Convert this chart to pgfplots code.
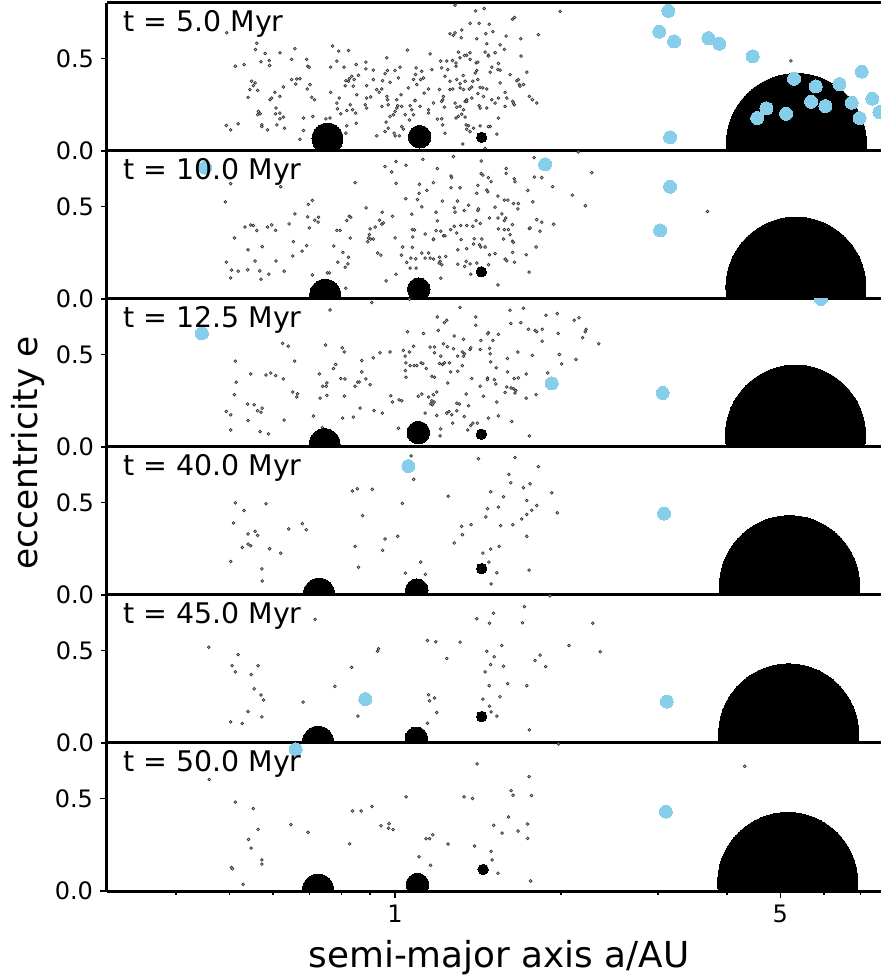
\documentclass[border=0pt]{standalone}
\usepackage{fontspec}
\setmainfont{DejaVu Sans}
\usepackage{pgfplots}
\pgfplotsset{compat=1.18}
\definecolor{skyb}{RGB}{135,206,235}
\pgfplotsset{
  gdots/.style={only marks, mark=*, mark size=0.7pt, mark options={fill=gray!35, draw=black!80, line width=0.35pt}},
  bdots/.style={only marks, mark=*, mark size=3.25pt, mark options={fill=skyb, draw=skyb, line width=0pt}},
  venus/.style={only marks, mark=*, mark size=7.75pt, mark options={fill=black, draw=black, line width=0pt}},
  earth/.style={only marks, mark=*, mark size=5.65pt, mark options={fill=black, draw=black, line width=0pt}},
  mars/.style={only marks, mark=*, mark size=2.6pt, mark options={fill=black, draw=black, line width=0pt}},
  jup/.style={only marks, mark=*, mark size=35pt, mark options={fill=black, draw=black, line width=0pt}},
}
\tikzset{ttl/.style={anchor=base west, inner sep=0pt, font=\fontsize{14.2}{14.2}\selectfont, xshift=8pt, yshift=-14.5pt}}
\begin{document}
\begin{tikzpicture}
% ---------------- panel 1
\begin{semilogxaxis}[at={(0pt,370pt)},
    scale only axis, width=387pt, height=74pt,
    xmin=0.3, xmax=7.62, ymin=0, ymax=0.8,
    axis x line*=box, axis y line*=left,
    ytick={0,0.5}, yticklabels={\mbox{0.0},\mbox{0.5}},
    xtick=\empty, xminorticks=false,
    tick align=outside, major tick length=3pt, minor tick length=2pt,
    tick style={line width=0.7pt, black},
    axis line style={line width=1.5pt},
    yticklabel style={font=\fontsize{12}{12}\selectfont},
    clip marker paths=true]
\addplot[gdots] coordinates {
(1.285,0.788)(1.400,0.757)(1.451,0.770)(1.647,0.721)(1.633,0.712)(0.495,0.639)(1.258,0.634)(1.276,0.625)(1.318,0.612)(1.285,0.639)(1.321,0.654)(1.368,0.690)(1.421,0.690)(1.482,0.685)(1.461,0.634)(1.505,0.645)(1.407,0.607)(1.591,0.621)(1.691,0.607)(1.820,0.629)
(0.561,0.582)(0.558,0.549)(0.658,0.553)(0.770,0.567)(0.790,0.540)(0.823,0.543)(1.053,0.545)(1.158,0.525)(1.303,0.534)(1.349,0.518)(1.368,0.531)(1.457,0.534)(1.477,0.518)(1.519,0.531)(1.551,0.574)(1.579,0.549)(1.467,0.580)
(0.581,0.527)(0.618,0.531)(0.691,0.495)(0.649,0.495)(0.571,0.482)(0.591,0.489)(0.592,0.462)(0.513,0.458)(0.532,0.467)(0.694,0.458)(0.698,0.453)
(0.764,0.453)(0.784,0.486)(0.808,0.453)(0.850,0.467)(0.885,0.480)(0.885,0.444)(0.966,0.504)(1.000,0.435)(1.021,0.453)(1.210,0.486)(1.241,0.486)(1.271,0.489)(1.290,0.476)(1.312,0.504)(1.337,0.516)(1.368,0.495)(1.403,0.476)(1.413,0.480)(1.477,0.513)(1.498,0.453)(1.537,0.440)(1.551,0.437)(1.540,0.473)(1.693,0.513)(1.734,0.426)(1.663,0.380)
(0.913,0.437)(0.969,0.435)(1.092,0.449)(1.118,0.431)(1.089,0.413)(1.166,0.440)(1.215,0.449)(1.246,0.440)(1.290,0.458)(1.329,0.408)(1.407,0.435)(1.398,0.422)(1.488,0.426)(1.617,0.413)
(0.834,0.404)(0.826,0.391)(0.843,0.386)(0.858,0.409)(0.814,0.380)(0.823,0.377)(0.840,0.350)(0.888,0.353)(0.913,0.386)(0.949,0.380)(0.959,0.418)(0.979,0.371)(1.014,0.395)(1.080,0.386)(1.095,0.359)(1.113,0.386)(1.126,0.395)(1.232,0.404)(1.258,0.377)(1.294,0.386)(1.312,0.364)(1.340,0.377)(1.384,0.377)(1.413,0.386)(1.378,0.346)(1.427,0.344)(1.467,0.335)(1.551,0.368)(1.681,0.359)(1.710,0.359)(1.674,0.386)
(0.549,0.377)(0.557,0.368)(0.553,0.353)(0.545,0.332)(0.563,0.328)(0.627,0.346)(0.649,0.386)(0.663,0.389)(0.660,0.362)(0.672,0.391)(0.701,0.359)(0.693,0.335)
(0.605,0.317)(0.597,0.286)(0.618,0.295)(0.593,0.277)(0.541,0.290)
(0.764,0.317)(0.792,0.286)(0.812,0.353)(0.852,0.304)(0.888,0.286)(0.903,0.292)(0.926,0.332)(0.946,0.335)(0.936,0.317)(0.966,0.295)(0.969,0.277)(1.007,0.277)(1.025,0.304)(1.057,0.341)(1.087,0.274)(1.150,0.335)(1.129,0.313)(1.204,0.332)(1.224,0.295)(1.258,0.332)(1.272,0.335)(1.312,0.341)(1.331,0.332)(1.364,0.335)(1.349,0.277)(1.340,0.268)(1.378,0.286)(1.413,0.310)(1.443,0.341)(1.447,0.295)(1.498,0.277)(1.540,0.286)(1.584,0.317)(1.595,0.286)(1.635,0.268)(1.645,0.250)(1.686,0.350)(1.753,0.295)(1.808,0.259)(1.775,0.277)
(0.706,0.290)(0.714,0.277)(0.784,0.259)
(0.565,0.214)(0.569,0.201)(0.563,0.196)(0.608,0.232)(0.607,0.201)(0.618,0.205)(0.618,0.174)(0.627,0.183)
(0.786,0.228)(0.797,0.201)(0.817,0.219)(0.829,0.250)(0.837,0.223)(0.848,0.205)(0.883,0.250)(0.888,0.232)(0.946,0.241)(0.972,0.250)(0.979,0.187)(1.007,0.232)(1.011,0.245)(1.028,0.241)(1.000,0.214)
(1.065,0.245)(1.072,0.223)(1.080,0.196)(1.087,0.272)(1.110,0.241)(1.150,0.223)(1.174,0.259)(1.215,0.268)(1.220,0.277)(1.229,0.237)(1.285,0.259)(1.294,0.237)(1.312,0.241)(1.331,0.223)(1.349,0.268)(1.421,0.245)(1.427,0.232)(1.467,0.232)(1.519,0.259)(1.584,0.241)(1.640,0.259)
(0.682,0.178)(0.709,0.187)(0.749,0.174)(0.762,0.178)(0.817,0.136)(0.850,0.150)(0.963,0.156)(0.993,0.196)(1.043,0.196)(1.062,0.168)(1.150,0.205)(1.193,0.172)(1.215,0.174)(1.220,0.141)(1.290,0.178)(1.303,0.187)(1.321,0.199)(1.340,0.183)(1.346,0.141)(1.388,0.123)(1.488,0.132)(1.540,0.178)
(0.494,0.138)(0.503,0.114)(0.519,0.147)(0.573,0.141)(0.573,0.132)(0.587,0.114)(0.610,0.141)(0.630,0.123)
(0.672,0.063)(0.682,0.111)(0.814,0.096)(0.926,0.082)(0.959,0.105)(0.972,0.123)(0.996,0.096)(1.000,0.082)(1.018,0.082)(1.028,0.132)(1.035,0.118)(1.232,0.096)(1.327,0.038)(1.349,0.118)(1.359,0.136)(1.368,0.105)(1.427,0.136)(1.477,0.132)(1.530,0.091)(1.457,0.014)
(1.993,0.755)(5.23,0.487)
};
\addplot[venus] coordinates {(0.754,0.067)};
\addplot[earth] coordinates {(1.108,0.077)};
\addplot[mars] coordinates {(1.436,0.074)};
\addplot[jup] coordinates {(5.35,0.040)};
\addplot[bdots] coordinates {
(3.133,0.757)(3.018,0.645)(3.209,0.592)(3.704,0.610)(3.878,0.580)(4.457,0.512)(5.298,0.390)(5.801,0.349)(6.404,0.362)(7.03,0.429)(5.69,0.266)(6.04,0.243)(6.74,0.261)(7.35,0.283)(7.57,0.21)(4.72,0.230)(4.54,0.178)(5.125,0.201)(6.97,0.178)(3.156,0.074)
};
\node[ttl] at (rel axis cs:0,1) {t = 5.0 Myr};
\end{semilogxaxis}
% ---------------- panel 2
\begin{semilogxaxis}[at={(0pt,296pt)},
    scale only axis, width=387pt, height=74pt,
    xmin=0.3, xmax=7.62, ymin=0, ymax=0.8,
    axis x line*=box, axis y line*=left,
    ytick={0,0.5}, yticklabels={\mbox{0.0},\mbox{0.5}},
    xtick=\empty, xminorticks=false,
    tick align=outside, major tick length=3pt, minor tick length=2pt,
    tick style={line width=0.7pt, black},
    axis line style={line width=1.5pt},
    yticklabel style={font=\fontsize{12}{12}\selectfont},
    clip marker paths=true]
\addplot[gdots] coordinates {
(1.276,0.770)(1.433,0.746)(1.788,0.764)(0.959,0.716)(1.004,0.743)(1.047,0.723)(1.123,0.755)(0.986,0.687)(1.193,0.705)(1.591,0.705)(1.591,0.679)(1.790,0.659)(1.846,0.656)(1.645,0.650)(1.651,0.634)(1.263,0.665)(1.267,0.656)(1.433,0.678)(1.443,0.670)(1.477,0.656)(1.494,0.634)
(0.503,0.623)(0.620,0.607)(0.846,0.629)(1.004,0.625)(1.107,0.620)(1.174,0.629)(1.263,0.601)(1.312,0.601)(1.413,0.614)(1.407,0.571)(1.467,0.589)(1.473,0.580)(1.741,0.587)(1.537,0.556)(0.492,0.525)
(0.696,0.511)(0.708,0.533)(0.886,0.493)(1.046,0.542)(1.098,0.538)(1.106,0.571)(1.142,0.587)(1.219,0.529)(1.298,0.529)(1.579,0.534)(1.602,0.534)(1.640,0.516)(1.674,0.516)(1.778,0.525)(1.670,0.487)(1.281,0.493)(1.285,0.469)(1.335,0.478)(1.359,0.507)(1.413,0.478)(1.417,0.487)(1.519,0.496)(1.118,0.498)(1.187,0.469)
(0.658,0.460)(0.694,0.444)(0.715,0.426)(0.726,0.442)(0.725,0.415)(0.699,0.384)(0.642,0.406)(0.534,0.389)(0.547,0.400)(0.553,0.397)(0.561,0.370)(0.587,0.389)(0.597,0.400)(0.607,0.371)(0.511,0.330)(0.541,0.266)(0.574,0.283)(0.654,0.310)(0.691,0.288)(0.678,0.259)(0.652,0.232)(0.608,0.205)(0.557,0.205)(0.494,0.199)(0.505,0.156)(0.519,0.150)(0.540,0.158)(0.568,0.152)(0.590,0.134)(0.629,0.150)(0.571,0.107)(0.503,0.114)
(0.817,0.424)(0.826,0.447)(0.831,0.442)(0.784,0.371)(0.795,0.371)(0.829,0.330)(0.774,0.286)(0.804,0.252)(0.823,0.226)(0.787,0.199)(0.812,0.172)(0.821,0.190)(0.708,0.130)(0.754,0.141)(0.760,0.141)(0.814,0.058)
(0.948,0.469)(0.989,0.447)(0.937,0.426)(0.952,0.411)(0.946,0.404)(0.920,0.389)(0.901,0.379)(0.898,0.348)(0.895,0.330)(0.892,0.310)(0.903,0.324)(0.913,0.324)(1.000,0.330)(1.072,0.458)(1.193,0.422)(1.075,0.375)(1.084,0.373)(1.134,0.351)(1.174,0.321)(1.187,0.370)(1.210,0.366)(1.224,0.342)(1.232,0.342)(1.261,0.375)(1.281,0.393)(1.316,0.397)(1.349,0.397)(1.384,0.393)(1.403,0.424)(1.427,0.408)(1.484,0.438)(1.537,0.438)(1.562,0.460)(1.588,0.438)(1.579,0.424)(1.633,0.402)(1.753,0.380)(1.758,0.384)(1.808,0.429)(1.846,0.415)(1.833,0.366)(1.540,0.379)(1.579,0.375)(1.606,0.375)
(0.930,0.248)(0.942,0.237)(1.032,0.281)(1.027,0.237)(1.068,0.221)(1.090,0.217)(1.118,0.248)(1.150,0.248)(1.134,0.221)(1.174,0.324)(1.077,0.335)(1.075,0.279)(1.204,0.226)(1.207,0.203)(1.215,0.185)(1.202,0.194)(1.236,0.230)(1.299,0.266)(1.349,0.272)(1.346,0.203)(1.299,0.188)(1.337,0.176)(1.392,0.326)(1.423,0.293)(1.431,0.281)(1.457,0.281)(1.437,0.324)(1.573,0.324)(1.633,0.312)(1.640,0.306)(1.617,0.348)(1.484,0.239)(1.519,0.245)(1.584,0.216)(1.595,0.207)(1.635,0.252)(1.647,0.199)(1.730,0.239)(1.803,0.281)(1.407,0.194)(1.368,0.190)(1.477,0.185)(1.174,0.216)(1.065,0.167)
(0.963,0.098)(1.004,0.134)(1.050,0.197)(1.092,0.167)(1.158,0.221)(1.210,0.112)(1.372,0.134)(1.537,0.076)(1.751,0.145)(1.294,0.357)(1.318,0.321)(1.388,0.297)
(2.275,0.683)(1.932,0.607)(2.098,0.561)(2.215,0.504)(3.69,0.473)(1.94,0.404)(2.15,0.795)
};
\addplot[venus] coordinates {(0.747,0.023)};
\addplot[earth] coordinates {(1.104,0.053)};
\addplot[mars] coordinates {(1.434,0.147)};
\addplot[jup] coordinates {(5.34,0.064)};
\addplot[bdots] coordinates {(0.452,0.710)(1.872,0.728)(3.156,0.607)(3.027,0.371)};
\node[ttl] at (rel axis cs:0,1) {t = 10.0 Myr};
\end{semilogxaxis}
% ---------------- panel 3
\begin{semilogxaxis}[at={(0pt,222pt)},
    scale only axis, width=387pt, height=74pt,
    xmin=0.3, xmax=7.62, ymin=0, ymax=0.8,
    axis x line*=box, axis y line*=left,
    ytick={0,0.5}, yticklabels={\mbox{0.0},\mbox{0.5}},
    xtick=\empty, xminorticks=false,
    tick align=outside, major tick length=3pt, minor tick length=2pt,
    tick style={line width=0.7pt, black},
    axis line style={line width=1.5pt},
    yticklabel style={font=\fontsize{12}{12}\selectfont},
    clip marker paths=true]
\addplot[gdots] coordinates {
(0.907,0.781)(1.062,0.799)(0.762,0.741)(1.312,0.754)(1.617,0.739)(1.710,0.750)(1.193,0.703)(1.241,0.685)(1.229,0.672)(1.401,0.703)(1.401,0.658)(1.622,0.667)(1.691,0.672)(1.879,0.712)(1.970,0.721)(2.115,0.685)(2.157,0.699)(1.746,0.636)(1.795,0.630)(1.850,0.636)(1.808,0.623)(1.477,0.618)(1.473,0.612)(1.505,0.576)(1.540,0.609)(1.281,0.600)(1.331,0.582)(1.431,0.576)(1.198,0.630)(1.053,0.623)(1.126,0.614)(1.978,0.614)(2.222,0.636)(2.214,0.623)(2.190,0.591)(2.342,0.558)(1.850,0.572)
(0.625,0.560)(0.640,0.545)(0.748,0.551)(0.802,0.536)(0.809,0.514)(0.939,0.509)(0.979,0.514)(1.035,0.522)(1.080,0.545)(1.062,0.514)(1.043,0.491)(1.158,0.540)(1.179,0.540)(1.179,0.509)(1.210,0.491)(1.224,0.558)(1.244,0.542)(1.276,0.531)(1.299,0.491)(1.325,0.514)(1.331,0.491)(1.337,0.504)(1.368,0.527)(1.372,0.536)(1.427,0.527)(1.484,0.533)(1.488,0.504)(1.600,0.478)(1.670,0.513)(1.775,0.495)(1.987,0.500)(2.129,0.473)(2.006,0.449)
(0.513,0.464)(0.657,0.464)(0.780,0.446)(0.773,0.424)(0.870,0.467)(0.913,0.482)(1.046,0.455)(1.065,0.440)(1.083,0.440)(1.095,0.440)(1.115,0.455)(1.123,0.451)(1.139,0.424)(1.204,0.451)(1.219,0.446)(1.229,0.455)(1.255,0.455)(1.325,0.440)(1.299,0.409)(1.261,0.406)(1.491,0.460)(1.526,0.428)(1.600,0.406)(1.730,0.395)(1.892,0.400)
(0.547,0.395)(0.583,0.389)(0.595,0.400)(0.607,0.386)(0.627,0.368)(0.729,0.395)(0.797,0.370)(0.811,0.368)(0.870,0.406)(0.885,0.368)(0.855,0.351)(0.861,0.351)(0.846,0.328)(0.901,0.337)(0.752,0.346)(0.750,0.328)(0.739,0.328)(1.044,0.413)(1.047,0.377)(1.166,0.382)(1.179,0.377)(1.246,0.346)(1.378,0.370)(1.427,0.328)(1.471,0.373)(1.471,0.364)(1.515,0.364)(1.523,0.341)(1.595,0.324)(1.624,0.319)(1.645,0.370)(1.640,0.315)(1.656,0.306)(1.651,0.292)(1.674,0.373)(1.803,0.283)(1.584,0.295)
(0.515,0.350)(0.511,0.283)(0.652,0.297)(0.665,0.288)(0.663,0.270)(0.731,0.264)(0.752,0.279)(0.809,0.275)(0.982,0.277)(0.989,0.243)(1.017,0.255)(1.028,0.250)(1.102,0.274)(1.118,0.286)(1.150,0.270)(1.174,0.283)(1.190,0.297)(1.166,0.250)(1.177,0.243)(1.169,0.228)(1.161,0.234)(1.346,0.286)(1.447,0.274)(1.530,0.243)(1.730,0.264)(1.294,0.237)(1.308,0.232)(1.359,0.223)(1.241,0.183)(1.253,0.192)(1.267,0.174)(1.294,0.196)(1.335,0.165)(1.190,0.170)(1.384,0.129)
(0.540,0.232)(0.555,0.228)(0.563,0.196)(0.571,0.188)(0.574,0.210)(0.494,0.192)(0.503,0.174)(0.541,0.143)(0.629,0.145)(0.711,0.167)(0.803,0.156)(0.840,0.161)(0.864,0.210)(0.916,0.197)(0.948,0.183)(1.134,0.183)(1.272,0.129)(1.372,0.116)(1.411,0.129)(1.477,0.156)(1.540,0.168)(1.628,0.138)
(0.503,0.092)(0.569,0.083)(0.589,0.071)(1.014,0.101)(1.210,0.098)(1.207,0.060)(1.355,0.092)(1.753,0.060)(0.738,0.105)
};
\addplot[venus] coordinates {(0.745,0.015)};
\addplot[earth] coordinates {(1.102,0.078)};
\addplot[mars] coordinates {(1.434,0.069)};
\addplot[jup] coordinates {(5.33,0.064)};
\addplot[bdots] coordinates {(0.446,0.614)(1.925,0.344)(3.06,0.292)(5.93,0.80)};
\node[ttl] at (rel axis cs:0,1) {t = 12.5 Myr};
\end{semilogxaxis}
% ---------------- panel 4
\begin{semilogxaxis}[at={(0pt,148pt)},
    scale only axis, width=387pt, height=74pt,
    xmin=0.3, xmax=7.62, ymin=0, ymax=0.8,
    axis x line*=box, axis y line*=left,
    ytick={0,0.5}, yticklabels={\mbox{0.0},\mbox{0.5}},
    xtick=\empty, xminorticks=false,
    tick align=outside, major tick length=3pt, minor tick length=2pt,
    tick style={line width=0.7pt, black},
    axis line style={line width=1.5pt},
    yticklabel style={font=\fontsize{12}{12}\selectfont},
    clip marker paths=true]
\addplot[gdots] coordinates {
(1.069,0.752)(1.417,0.737)(1.651,0.743)(1.820,0.694)(1.609,0.652)(1.622,0.607)(1.710,0.580)(1.758,0.601)(1.491,0.558)(1.573,0.531)(1.249,0.534)(1.031,0.495)(1.081,0.625)(0.837,0.562)(0.854,0.574)(0.909,0.571)
(0.513,0.498)(0.532,0.457)(0.583,0.493)(0.509,0.389)(0.541,0.330)(0.557,0.344)(0.563,0.322)(0.541,0.275)(0.547,0.266)(0.528,0.257)(0.592,0.250)(0.620,0.226)(0.503,0.181)(0.573,0.141)(0.574,0.076)
(0.641,0.357)(0.679,0.386)(0.690,0.353)(0.873,0.429)(0.846,0.263)(0.959,0.303)(1.011,0.317)(0.949,0.241)(0.858,0.150)(1.113,0.178)(1.044,0.118)(1.135,0.111)
(1.925,0.553)(1.970,0.444)(1.808,0.484)(1.770,0.458)(1.734,0.435)(1.698,0.411)(1.734,0.511)(1.540,0.475)(1.471,0.466)(1.461,0.422)(1.374,0.380)(1.321,0.371)(1.325,0.326)(1.281,0.281)(1.555,0.375)(1.635,0.380)(1.734,0.317)(1.545,0.263)(1.491,0.248)(1.443,0.226)(1.480,0.178)(1.530,0.120)(1.494,0.060)(1.751,0.134)
};
\addplot[venus] coordinates {(0.728,0.007)};
\addplot[earth] coordinates {(1.095,0.026)};
\addplot[mars] coordinates {(1.436,0.143)};
\addplot[jup] coordinates {(5.20,0.050)};
\addplot[bdots] coordinates {(1.057,0.697)(3.077,0.440)};
\node[ttl] at (rel axis cs:0,1) {t = 40.0 Myr};
\end{semilogxaxis}
% ---------------- panel 5
\begin{semilogxaxis}[at={(0pt,74pt)},
    scale only axis, width=387pt, height=74pt,
    xmin=0.3, xmax=7.62, ymin=0, ymax=0.8,
    axis x line*=box, axis y line*=left,
    ytick={0,0.5}, yticklabels={\mbox{0.0},\mbox{0.5}},
    xtick=\empty, xminorticks=false,
    tick align=outside, major tick length=3pt, minor tick length=2pt,
    tick style={line width=0.7pt, black},
    axis line style={line width=1.5pt},
    yticklabel style={font=\fontsize{12}{12}\selectfont},
    clip marker paths=true]
\addplot[gdots] coordinates {
(0.716,0.668)(1.407,0.672)(1.509,0.701)(1.717,0.737)(1.484,0.647)(1.703,0.650)(2.284,0.647)(2.068,0.527)(1.562,0.527)(1.467,0.496)(1.513,0.466)(1.833,0.475)(1.795,0.446)(1.876,0.413)(1.573,0.415)(1.491,0.424)(1.457,0.384)(1.600,0.321)(1.482,0.310)(1.734,0.310)
(1.241,0.457)(1.312,0.545)(1.145,0.554)(1.185,0.547)(0.933,0.509)(0.929,0.496)(0.834,0.409)(0.778,0.306)
(0.459,0.518)(0.519,0.478)(0.506,0.418)(0.513,0.384)(0.564,0.418)(0.548,0.370)(0.555,0.293)(0.571,0.259)(0.577,0.232)(0.681,0.221)(0.541,0.170)(0.503,0.114)(0.528,0.105)(0.573,0.141)(0.856,0.145)
(1.150,0.261)(1.155,0.228)(1.179,0.243)(1.190,0.165)(1.145,0.107)(1.443,0.237)(1.484,0.199)(1.494,0.168)(1.530,0.145)(1.551,0.250)(1.753,0.071)(2.357,0.493)(1.91,0.795)
};
\addplot[venus] coordinates {(0.725,0.007)};
\addplot[earth] coordinates {(1.093,0.025)};
\addplot[mars] coordinates {(1.436,0.143)};
\addplot[jup] coordinates {(5.18,0.049)};
\addplot[bdots] coordinates {(0.883,0.2375)(3.112,0.224)};
\node[ttl] at (rel axis cs:0,1) {t = 45.0 Myr};
\end{semilogxaxis}
% ---------------- panel 6
\begin{semilogxaxis}[at={(0pt,0pt)},
    scale only axis, width=387pt, height=74pt,
    xmin=0.3, xmax=7.62, ymin=0, ymax=0.8,
    axis x line*=box, axis y line*=left,
    ytick={0,0.5}, yticklabels={\mbox{0.0},\mbox{0.5}},
    xtick={1,5}, xticklabels={\mbox{1},\mbox{5}}, xtick pos=left,
    minor xtick={0.4,0.5,0.6,0.7,0.8,0.9,2,3,4,6,7},
    tick align=outside, major tick length=3.5pt, minor tick length=2pt,
    tick style={line width=0.7pt, black},
    axis line style={line width=1.5pt},
    yticklabel style={font=\fontsize{12}{12}\selectfont},
    xticklabel style={font=\fontsize{12}{12}\selectfont},
    clip marker paths=true]
\addplot[gdots] coordinates {
(0.460,0.603)(0.513,0.480)(0.553,0.446)(0.564,0.333)(0.542,0.279)(0.548,0.232)(0.573,0.168)(0.573,0.145)(0.505,0.127)(0.507,0.120)(0.530,0.036)
(0.647,0.359)(0.695,0.317)(0.827,0.255)(0.837,0.433)(0.868,0.433)(0.908,0.457)(0.943,0.353)(0.973,0.339)(0.992,0.332)(0.975,0.364)(1.047,0.509)(1.105,0.185)(1.138,0.283)(1.155,0.283)(1.170,0.304)(1.160,0.139)(1.248,0.254)
(1.334,0.509)(1.382,0.500)(1.409,0.687)(1.394,0.243)(1.494,0.214)(1.500,0.168)(1.510,0.355)(1.538,0.096)(1.564,0.313)(1.607,0.400)(1.624,0.543)(1.637,0.518)(1.672,0.324)(1.740,0.362)(1.740,0.284)(1.751,0.618)(1.769,0.516)(1.762,0.054)
(4.31,0.674)(1.98,0.795)
};
\addplot[venus] coordinates {(0.725,0.008)};
\addplot[earth] coordinates {(1.098,0.035)};
\addplot[mars] coordinates {(1.445,0.117)};
\addplot[jup] coordinates {(5.16,0.046)};
\addplot[bdots] coordinates {(0.660,0.766)(3.10,0.429)};
\node[ttl] at (rel axis cs:0,1) {t = 50.0 Myr};
\end{semilogxaxis}
\node[rotate=90, anchor=base, font=\fontsize{17.2}{17.2}\selectfont] at (-35pt,219pt) {eccentricity e};
\node[anchor=base, font=\fontsize{17.9}{17.9}\selectfont] at (196pt,-38pt) {semi-major axis a/AU};
\pgfresetboundingbox
\useasboundingbox (-53.5pt,-43.5pt) rectangle (387pt,445.5pt);
\end{tikzpicture}
\end{document}
